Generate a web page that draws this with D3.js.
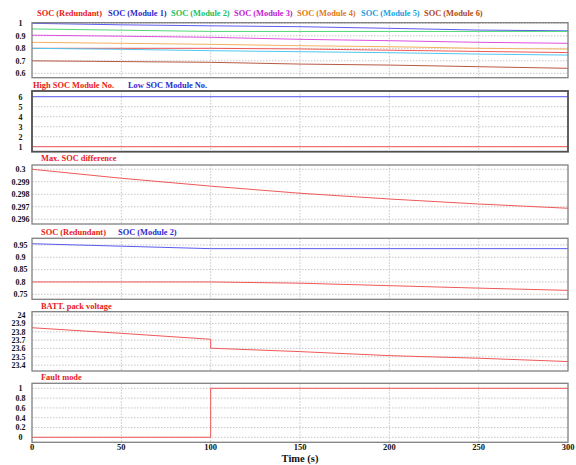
<!DOCTYPE html>
<html>
<head>
<meta charset="utf-8">
<script src="https://cdn.jsdelivr.net/npm/d3@7"></script>
<style>
  body { margin: 0; background: #fff; }
  text { font-family: "Liberation Serif", "Times New Roman", serif; font-weight: bold; }
</style>
</head>
<body>
<svg id="chart" width="576" height="465"></svg>
<script>
// sample times (s)
var tSoc = [0, 50, 100, 150, 200, 250, 300];

// SOC of each module
var socRedundant = [0.800, 0.800, 0.800, 0.795, 0.785, 0.775, 0.766];
var socModule1   = [1.000, 0.988, 0.980, 0.973, 0.960, 0.946, 0.940];
var socModule2   = [0.955, 0.945, 0.935, 0.935, 0.935, 0.935, 0.935];
var socModule3   = [0.905, 0.897, 0.888, 0.872, 0.861, 0.848, 0.840];
var socModule4   = [0.848, 0.840, 0.832, 0.821, 0.813, 0.800, 0.794];
var socModule5   = [0.800, 0.792, 0.781, 0.773, 0.765, 0.754, 0.746];
var socModule6   = [0.700, 0.694, 0.688, 0.674, 0.666, 0.653, 0.640];

var tFlat = [0, 300];
var highModuleNo = [1, 1];
var lowModuleNo  = [6, 6];

var maxSocDiff = [0.3000, 0.29928, 0.29865, 0.29808, 0.29762, 0.29722, 0.29688];

var tVolt = [0, 50, 100, 100, 150, 200, 250, 300];
var packVoltage = [23.848, 23.781, 23.710, 23.603, 23.562, 23.514, 23.483, 23.443];

var tFault = [0, 100, 100, 300];
var faultMode = [0, 0, 1, 1];

var xTicks = [0, 50, 100, 150, 200, 250, 300];

var svg = d3.select("#chart");
var x = d3.scaleLinear().domain([0, 300]).range([32, 568]);

// lines look washed out in the original, so keep them a bit light
var colors = {
    red: "#f05858", blue: "#5a5af0", green: "#50d878", magenta: "#e050e0",
    orange: "#f4b060", cyan: "#50c8f0", brown: "#b85a44"
};
var textColors = {
    red: "#e82020", blue: "#2a2ad0", green: "#20c060", magenta: "#c020d0",
    orange: "#e07818", cyan: "#1aa0e0", brown: "#b04a18"
};

var panels = [
    { top: 22.7, bottom: 77.7, domain: [0.565, 1.005], ticks: [0.6, 0.7, 0.8, 0.9, 1], anchor: "middle",
      series: [
        { t: tSoc, v: socRedundant, c: "red", name: "SOC (Redundant)", lx: 37 },
        { t: tSoc, v: socModule1, c: "blue", name: "SOC (Module 1)", lx: 108 },
        { t: tSoc, v: socModule2, c: "green", name: "SOC (Module 2)", lx: 171 },
        { t: tSoc, v: socModule3, c: "magenta", name: "SOC (Module 3)", lx: 234 },
        { t: tSoc, v: socModule4, c: "orange", name: "SOC (Module 4)", lx: 297 },
        { t: tSoc, v: socModule5, c: "cyan", name: "SOC (Module 5)", lx: 361 },
        { t: tSoc, v: socModule6, c: "brown", name: "SOC (Module 6)", lx: 424 }
      ], ly: 12.7 },
    { top: 91, bottom: 151.7, domain: [0.5, 6.57], ticks: [1, 2, 3, 4, 5, 6], anchor: "middle", thick: true,
      series: [
        { t: tFlat, v: highModuleNo, c: "red", name: "High SOC Module No.", lx: 33 },
        { t: tFlat, v: lowModuleNo, c: "blue", name: "Low SOC Module No.", lx: 128 }
      ], ly: 85 },
    { top: 165, bottom: 224, domain: [0.29562, 0.30034], ticks: [0.296, 0.297, 0.298, 0.299, 0.3], anchor: "middle",
      series: [
        { t: tSoc, v: maxSocDiff, c: "red", name: "Max. SOC difference", lx: 41 }
      ], ly: 158 },
    { top: 238.3, bottom: 299.3, domain: [0.7297, 0.977], ticks: [0.75, 0.8, 0.85, 0.9, 0.95], anchor: "middle",
      series: [
        { t: tSoc, v: socRedundant, c: "red", name: "SOC (Redundant)", lx: 41 },
        { t: tSoc, v: socModule2, c: "blue", name: "SOC (Module 2)", lx: 118 }
      ], ly: 231.7 },
    { top: 311.7, bottom: 371, domain: [23.33, 24.04], ticks: [23.4, 23.5, 23.6, 23.7, 23.8, 23.9, 24], anchor: "end",
      series: [
        { t: tVolt, v: packVoltage, c: "red", name: "BATT. pack voltage", lx: 41 }
      ], ly: 305.7 },
    { top: 383.3, bottom: 442.3, domain: [-0.102, 1.102], ticks: [0, 0.2, 0.4, 0.6, 0.8, 1], anchor: "middle",
      series: [
        { t: tFault, v: faultMode, c: "red", name: "Fault mode", lx: 41 }
      ], ly: 377.3 }
];

panels.forEach(function(p, i) {
    var y = d3.scaleLinear().domain(p.domain).range([p.bottom, p.top]);
    var g = svg.append("g");

    // dotted grid
    g.selectAll("line.vg").data(xTicks.slice(1, -1)).enter().append("line")
        .attr("x1", function(d) { return x(d); }).attr("x2", function(d) { return x(d); })
        .attr("y1", p.top).attr("y2", p.bottom)
        .attr("stroke", "#b8b8b8").attr("stroke-width", 0.8).attr("stroke-dasharray", "1.5,1.5");
    g.selectAll("line.hg").data(p.ticks).enter().append("line")
        .attr("x1", x(0)).attr("x2", x(300))
        .attr("y1", function(d) { return y(d); }).attr("y2", function(d) { return y(d); })
        .attr("stroke", "#b8b8b8").attr("stroke-width", 0.8).attr("stroke-dasharray", "1.5,1.5");

    // y tick labels
    var tx = p.anchor == "end" ? 25.5 : 20.5;
    g.selectAll("text.yt").data(p.ticks).enter().append("text")
        .attr("x", tx).attr("y", function(d) { return y(d); })
        .attr("dy", "0.35em").attr("text-anchor", p.anchor)
        .attr("font-size", 8).attr("fill", "#111")
        .text(function(d) { return d3.format("~g")(d); });

    // series
    var line = d3.line()
        .x(function(d) { return x(d[0]); })
        .y(function(d) { return y(d[1]); });
    p.series.forEach(function(s) {
        g.append("path")
            .datum(d3.zip(s.t, s.v))
            .attr("fill", "none")
            .attr("stroke", colors[s.c])
            .attr("stroke-width", 1)
            .attr("d", line);
        svg.append("text")
            .attr("x", s.lx).attr("y", p.ly).attr("dy", "0.35em")
            .attr("font-size", 8.4).attr("fill", textColors[s.c])
            .text(s.name);
    });

    // frame
    g.append("rect")
        .attr("x", x(0)).attr("y", p.top)
        .attr("width", x(300) - x(0)).attr("height", p.bottom - p.top)
        .attr("fill", "none")
        .attr("stroke", p.thick ? "#505050" : "#808080")
        .attr("stroke-width", p.thick ? 1.8 : 1.3);

    if (i == panels.length - 1) {
        g.selectAll("text.xt").data(xTicks).enter().append("text")
            .attr("x", function(d) { return x(d); }).attr("y", 446.7)
            .attr("dy", "0.35em").attr("text-anchor", "middle")
            .attr("font-size", 8.5).attr("fill", "#111")
            .text(function(d) { return d; });
        svg.append("text")
            .attr("x", 300).attr("y", 458).attr("dy", "0.35em")
            .attr("text-anchor", "middle").attr("font-size", 10.5).attr("fill", "#111")
            .text("Time (s)");
    }
});
</script>
</body>
</html>
